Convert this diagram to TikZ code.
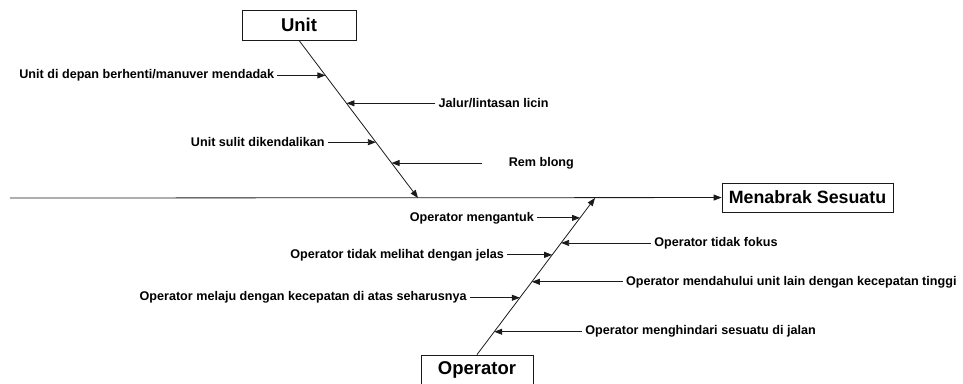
\documentclass[tikz,border=0pt]{standalone}
\usepackage{fontspec}
\setmainfont{Liberation Sans}
\usepackage{tikz}
\usetikzlibrary{arrows.meta,calc}
\definecolor{linemain}{HTML}{1A1A1A}
\tikzset{every node/.append style={font=\bfseries}}

\begin{document}
\begin{tikzpicture}[>={Triangle[length=8pt,width=6pt]},x=1pt,y=-1pt,
  effect/.style={draw=linemain,fill=white,line width=.8pt,inner sep=0pt,
    font=\fontsize{18.5}{20}\selectfont\bfseries},
  cause/.style={font=\fontsize{12.6}{14}\selectfont\bfseries,inner sep=3pt},
  bone/.style={linemain,line width=.8pt}]
  \useasboundingbox (0,0) rectangle (963,383);
  % effect and main categories
  \node[effect,minimum width=114pt,minimum height=30pt] (unit) at (299,25) {Unit};
  \node[effect,minimum width=112pt,minimum height=30pt] (operator) at (477,370) {Operator};
  \node[effect,minimum width=171pt,minimum height=29pt,
    font=\fontsize{17.8}{20}\selectfont\bfseries] (menabrak) at (807.5,197.5) {Menabrak Sesuatu};
  \coordinate (tail) at (10,198);
  \coordinate (uh) at (418,198);
  \coordinate (oh) at (595,198);
  \draw[bone,->] (tail) -- (menabrak);
  \draw[bone,->] (unit.south) -- (uh);
  \draw[bone,->] (operator.north) -- (oh);
  % causes on the unit bone
  \foreach \t/\anc/\dx/\sh/\txt [count=\i] in {
      .222/east/-48/0/{Unit di depan berhenti/manuver mendadak},
      .399/west/89/0/{Jalur/lintasan licin},
      .646/east/-48/0/{Unit sulit dikendalikan},
      .778/west/114/24/{Rem blong}} {
    \coordinate (u\i) at ($(unit.south)!\t!(uh)$);
    \node[cause,anchor=\anc] (uc\i) at ([xshift=\dx pt]u\i) {\txt};
    \draw[bone,->,shorten <=\sh pt] (uc\i) -- (u\i);
  }
  % causes on the operator bone
  \foreach \t/\anc/\dx/\txt [count=\i] in {
      .873/east/-43/{Operator mengantuk},
      .713/west/90/{Operator tidak fokus},
      .637/east/-45/{Operator tidak melihat dengan jelas},
      .465/west/91/{Operator mendahului unit lain dengan kecepatan tinggi},
      .363/east/-50/{Operator melaju dengan kecepatan di atas seharusnya},
      .146/west/88/{Operator menghindari sesuatu di jalan}} {
    \coordinate (o\i) at ($(operator.north)!\t!(oh)$);
    \node[cause,anchor=\anc] (oc\i) at ([xshift=\dx pt]o\i) {\txt};
    \draw[bone,->] (oc\i) -- (o\i);
  }
\end{tikzpicture}
\end{document}
